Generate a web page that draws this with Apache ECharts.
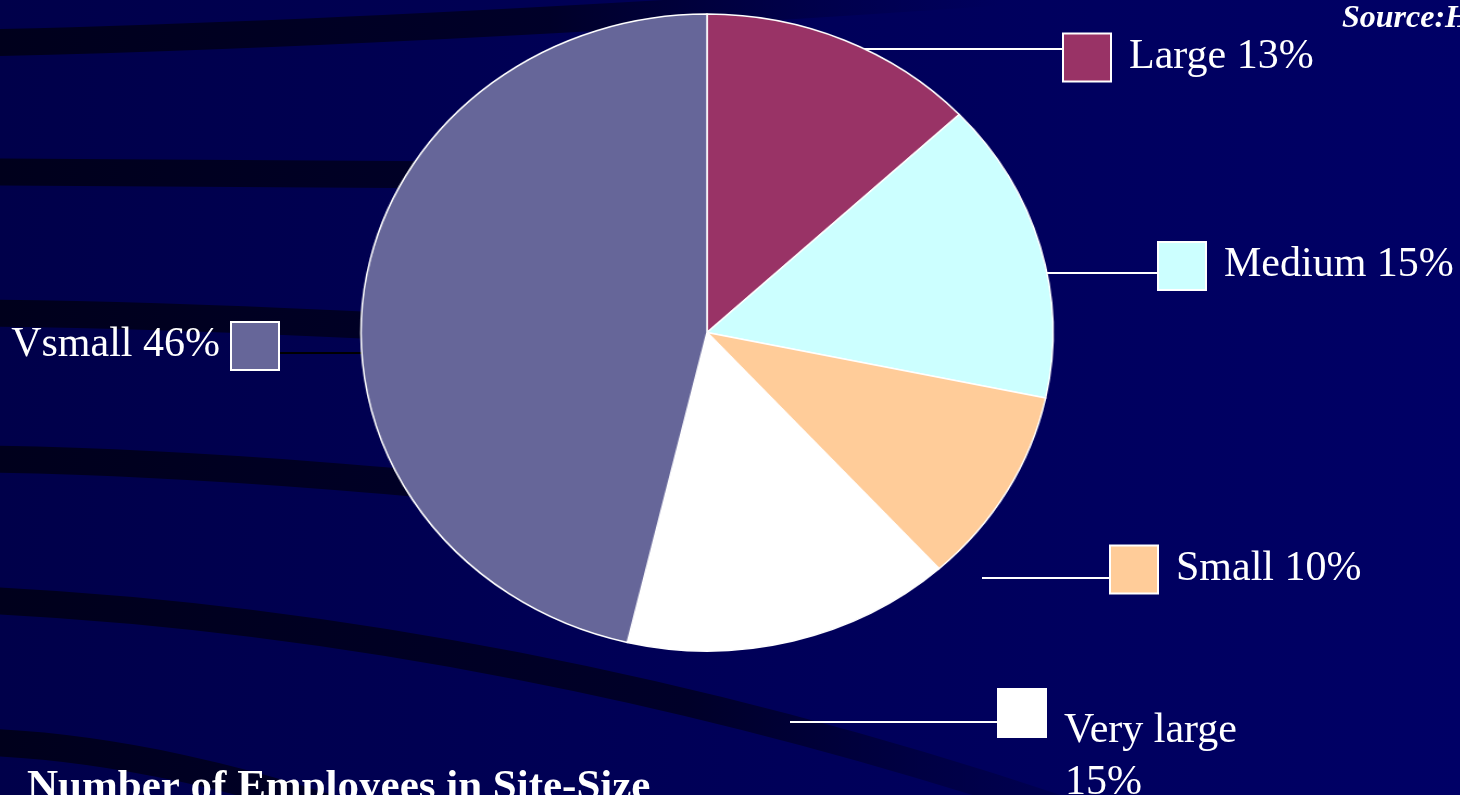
<!DOCTYPE html>
<html>
<head>
<meta charset="utf-8">
<title>Number of Employees in Site-Size</title>
<script src="https://cdn.jsdelivr.net/npm/echarts@6.0.0/dist/echarts.min.js"></script>
<style>
  html, body { margin: 0; padding: 0; overflow: hidden; background: #00004a; }
  #base, #pie { position: absolute; left: 0; top: 0; width: 1460px; height: 795px; }
  /* the original pie is an ellipse (wider than tall), so stretch the pie layer */
  #pie { transform: scaleX(1.0863); transform-origin: 707px 332.5px; }
</style>
</head>
<body>
<div id="base"></div>
<div id="pie"></div>
<script>
  'use strict';

  var categories = ['Large', 'Medium', 'Small', 'Very large', 'Vsmall'];
  var shares = [13.0, 15.3, 10.0, 15.4, 46.3];
  var sliceColors = ['#993366', '#ccffff', '#ffcc99', '#ffffff', '#666699'];
  var lineColors = ['#fff', '#fff', '#fff', '#fff', '#000'];

  var serif = '"Times New Roman", "Liberation Serif", serif';
  var center = [707, 332.5];
  var radius = 318.5;

  // where the legend-like labels sit, and their leader lines
  var labelSpots = [
    { x: 1064, y: 57.5, align: 'left', va: 'middle', line: [[855, 49], [960, 49], [1064, 49]] },
    { x: 1159, y: 266, align: 'left', va: 'middle', line: [[1040, 273], [1100, 273], [1159, 273]] },
    { x: 1111, y: 569.5, align: 'left', va: 'middle', line: [[982, 578], [1050, 578], [1111, 578]] },
    { x: 999, y: 690, align: 'left', va: 'top', line: [[790, 722], [900, 722], [999, 722]] },
    { x: 278, y: 346, align: 'right', va: 'middle', line: [[278, 353], [320, 353], [366, 353]] }
  ];

  // dark swooshes of the slide background
  var bands = [
    { p: [-20, 43, 300, 36, 650, 16, 1000, -8], fadeTo: 1000 },
    { p: [-20, 172, 250, 171, 600, 173, 950, 178], fadeTo: 950 },
    { p: [-20, 313, 200, 315, 450, 328, 750, 348], fadeTo: 950 },
    { p: [-20, 459, 200, 462, 400, 480, 800, 520], fadeTo: 1000 },
    { p: [-20, 600, 300, 615, 700, 680, 1150, 840], fadeTo: 1250 },
    { p: [-20, 742, 100, 746, 250, 775, 420, 840], fadeTo: 700 }
  ];

  var pieData = categories.map(function (name, i) {
    return {
      name: name,
      value: shares[i],
      itemStyle: { color: sliceColors[i] },
      labelLine: { lineStyle: { color: lineColors[i] } }
    };
  });

  var textBase = { fontFamily: serif, fontSize: 42, color: '#fff' };
  var rich = {
    t: Object.assign({ lineHeight: 46, padding: [0, 0, 2, 0] }, textBase),
    tv: Object.assign({ lineHeight: 82 }, textBase),
    t2: Object.assign({ lineHeight: 22 }, textBase),
    gap: { width: 19 },
    gapL: { width: 12 },
    pad: { width: 66 }
  };
  sliceColors.forEach(function (c, i) {
    rich['b' + i] = { width: 46, height: 46, backgroundColor: c, borderColor: '#fff', borderWidth: 2 };
  });
  rich.b3.verticalAlign = 'top';

  function labelText(p) {
    var pct = Math.round(p.percent) + '%';
    if (p.dataIndex === 4) return '{t|' + p.name + ' ' + pct + '}{gapL|}{b4|}';
    if (p.dataIndex === 3) return '{b3|}{gap|}{tv|' + p.name + '}\n{pad|}{t2|' + pct + '}';
    return '{b' + p.dataIndex + '|}{gap|}{t|' + p.name + ' ' + pct + '}';
  }

  /*-----background, titles and labels-----*/
  var baseChart = echarts.init(document.getElementById('base'));
  baseChart.setOption({
    animation: false,
    backgroundColor: new echarts.graphic.LinearGradient(0, 0, 1, 0, [
      { offset: 0, color: '#00004a' },
      { offset: 1, color: '#000066' }
    ]),
    title: [
      {
        text: 'Number of Employees in Site-Size',
        left: 27, top: 766, padding: 0,
        textStyle: { fontFamily: serif, fontSize: 43, fontWeight: 'bold', color: '#fff' }
      },
      {
        text: 'Source:H',
        left: 1342, top: 3, padding: 0,
        textStyle: { fontFamily: serif, fontSize: 32, fontWeight: 'bold', fontStyle: 'italic', color: '#fff' }
      }
    ],
    graphic: {
      elements: bands.map(function (b) {
        return {
          type: 'bezierCurve',
          silent: true,
          z: -10,
          shape: {
            x1: b.p[0], y1: b.p[1], cpx1: b.p[2], cpy1: b.p[3],
            cpx2: b.p[4], cpy2: b.p[5], x2: b.p[6], y2: b.p[7]
          },
          style: {
            fill: 'none',
            lineWidth: 27,
            stroke: new echarts.graphic.LinearGradient(0, 0, b.fadeTo, 0, [
              { offset: 0, color: 'rgba(0,0,28,1)' },
              { offset: 0.55, color: 'rgba(0,0,36,0.9)' },
              { offset: 1, color: 'rgba(0,0,60,0)' }
            ], true)
          }
        };
      })
    },
    series: [{
      type: 'pie',
      silent: true,
      center: center,
      radius: radius,
      startAngle: 90,
      avoidLabelOverlap: false,
      itemStyle: { color: 'transparent', borderWidth: 0 },
      emphasis: { disabled: true },
      label: {
        show: true,
        position: 'outside',
        formatter: labelText,
        rich: rich
      },
      labelLine: {
        show: true,
        length: 10,
        length2: 10,
        smooth: false,
        lineStyle: { width: 2 }
      },
      labelLayout: function (p) {
        var s = labelSpots[p.dataIndex];
        return { x: s.x, y: s.y, align: s.align, verticalAlign: s.va, labelLinePoints: s.line };
      },
      data: pieData
    }]
  });

  /*-----the pie itself-----*/
  var pieChart = echarts.init(document.getElementById('pie'));
  pieChart.setOption({
    animation: false,
    series: [{
      type: 'pie',
      silent: true,
      center: center,
      radius: radius,
      startAngle: 90,
      label: { show: false },
      labelLine: { show: false },
      emphasis: { disabled: true },
      itemStyle: { borderColor: '#fff', borderWidth: 1.5 },
      data: pieData
    }]
  });
</script>
</body>
</html>
